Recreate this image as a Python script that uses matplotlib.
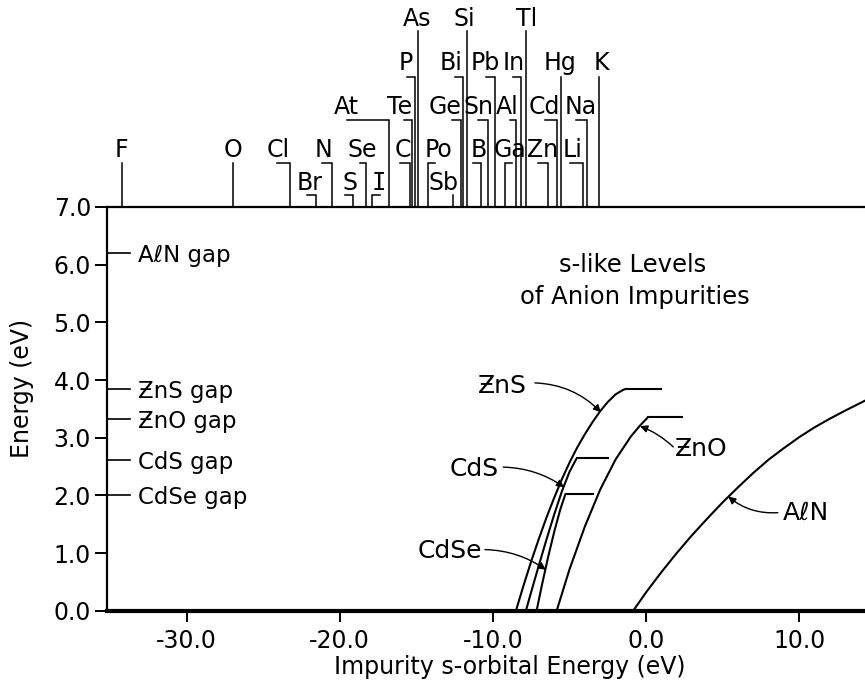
import matplotlib
matplotlib.use('Agg')
import matplotlib.pyplot as plt

plt.rcParams['font.family'] = ['DejaVu Sans']
plt.rcParams['axes.unicode_minus'] = False

# ---------------- data ----------------
# impurity s-orbital energies (eV) of the elements shown above the frame
elements = ['F', 'O', 'Cl', 'N', 'Se', 'C', 'Po', 'B', 'Ga', 'Zn', 'Li',
            'Br', 'S', 'I', 'Sb',
            'At', 'Te', 'Ge', 'Sn', 'Al', 'Cd', 'Na',
            'P', 'Bi', 'Pb', 'In', 'Hg', 'K',
            'As', 'Si', 'Tl']
energies = [-34.23, -27.0, -23.25, -20.5, -18.3, -15.42, -14.27, -10.79, -9.22, -6.39, -4.15,
            -21.56, -19.13, -17.92, -12.63,
            -16.76, -15.27, -12.09, -10.35, -8.52, -5.84, -3.85,
            -15.1, -11.94, -9.87, -8.17, -5.56, -3.06,
            -14.9, -11.68, -7.87]

# band gaps (eV) marked on the energy axis
gap_names = ['A\u2113N gap', '\u01B5nS gap', '\u01B5nO gap', 'CdS gap', 'CdSe gap']
gap_values = [6.2, 3.85, 3.32, 2.61, 2.01]

# s-like level curves: impurity energy (eV) vs level energy (eV)
zns_x = [-8.5, -8.0, -7.5, -7.0, -6.5, -6.0, -5.5, -5.0, -4.5, -4.0, -3.5, -3.0, -2.5, -2.0, -1.5, -1.27]
zns_E = [0.0, 0.44, 0.86, 1.25, 1.62, 1.96, 2.28, 2.57, 2.83, 3.06, 3.27, 3.46, 3.62, 3.75, 3.83, 3.85]
cds_x = [-7.85, -7.5, -7.0, -6.5, -6.0, -5.5, -5.0, -4.54]
cds_E = [0.0, 0.33, 0.79, 1.24, 1.67, 2.07, 2.41, 2.64]
cdse_x = [-7.15, -6.8, -6.4, -6.0, -5.6, -5.26]
cdse_E = [0.0, 0.45, 0.93, 1.37, 1.76, 2.03]
zno_x = [-5.84, -5.0, -4.0, -3.0, -2.0, -1.0, -0.4, 0.14]
zno_E = [0.0, 0.72, 1.46, 2.10, 2.62, 3.02, 3.21, 3.36]
aln_x = [-0.84, 0.0, 1.0, 2.0, 3.0, 4.0, 5.0, 6.0, 7.0, 8.0, 9.0, 10.0, 11.0, 12.0, 13.0, 14.5]
aln_E = [0.0, 0.32, 0.67, 1.00, 1.31, 1.60, 1.88, 2.14, 2.39, 2.62, 2.82, 3.01, 3.18, 3.33, 3.47, 3.67]

# conduction-band edge segments at the end of the curves
edge_names = ['ZnS', 'ZnO', 'CdS', 'CdSe']
edge_E = [3.85, 3.36, 2.64, 2.03]
edge_start = [-1.27, 0.14, -4.54, -5.26]
edge_end = [0.97, 2.32, -2.47, -3.45]

yticks = [0.0, 1.0, 2.0, 3.0, 4.0, 5.0, 6.0, 7.0]
xticks = [-30.0, -20.0, -10.0, 0.0, 10.0]

# ---------------- layout of element labels ----------------
label_row = [4] * 11 + [5] * 4 + [3] * 7 + [2] * 6 + [1] * 3
label_x = [-34.23, -27.0, -24.04, -21.04, -18.56, -15.9, -13.56, -10.92, -8.89, -6.77, -4.78,
           -22.0, -19.34, -17.45, -13.2,
           -19.57, -16.1, -13.14, -10.92, -9.06, -6.67, -4.26,
           -15.72, -12.75, -10.53, -8.66, -5.63, -2.92,
           -14.93, -11.9, -7.82]
hook_x = [-34.23, -27.0, -24.12, -21.17, -18.69, -16.08, -13.79, -11.29, -8.78, -7.08, -4.98,
          -22.17, -19.67, -17.37, -12.63,
          -19.56, -15.81, -12.7, -11.0, -8.89, -6.61, -4.6,
          -15.64, -12.48, -10.48, -8.68, -5.56, -3.06,
          -14.9, -11.68, -7.87]
row_base = {1: 10.13, 2: 9.37, 3: 8.62, 4: 7.87, 5: 7.30}
row_hook = {1: 10.05, 2: 9.25, 3: 8.50, 4: 7.77, 5: 7.20}

# ---------------- figure ----------------
fig = plt.figure(figsize=(8.65, 6.92), dpi=100)
ax = fig.add_axes([107 / 865, 1 - 610.7 / 692, 758 / 865, 403.7 / 692])
ax.set_xlim(-35.2, 14.29)
ax.set_ylim(0, 7)

ax.spines['right'].set_visible(False)
ax.spines['left'].set_linewidth(1.6)
ax.spines['top'].set_linewidth(1.6)
ax.spines['bottom'].set_linewidth(3.0)

ax.set_yticks(yticks)
ax.set_yticklabels(['%.1f' % v for v in yticks])
ax.set_xticks(xticks)
ax.set_xticklabels(['%.1f' % v for v in xticks])
ax.tick_params(axis='y', direction='out', length=8.5, width=1.4, labelsize=17, pad=3)
ax.tick_params(axis='x', direction='out', length=8, width=1.4, labelsize=17, pad=5)

# curves
lw_c = 1.5
for xs, es in [(zns_x, zns_E), (cds_x, cds_E), (cdse_x, cdse_E), (zno_x, zno_E), (aln_x, aln_E)]:
    ax.plot(xs, es, color='black', lw=lw_c, solid_capstyle='butt', solid_joinstyle='round')
for e, x0, x1 in zip(edge_E, edge_start, edge_end):
    ax.plot([x0, x1], [e, e], color='black', lw=lw_c)

# gap markers
for name, g in zip(gap_names, gap_values):
    ax.plot([-35.2, -33.7], [g, g], color='black', lw=1.2, clip_on=False)
    ax.text(-33.2, g, name, fontsize=16.5, ha='left', va='center_baseline')

# curve labels with arrows
arrow_kw = dict(arrowstyle='-|>', color='black', lw=1.0, shrinkA=0, shrinkB=0,
                mutation_scale=11)
curve_labels = [
    ('\u01B5nS', -10.97, 3.78, (-7.26, 3.95), (-2.95, 3.44), -0.2),
    ('CdS', -12.86, 2.33, (-9.33, 2.49), (-5.35, 2.14), -0.15),
    ('CdSe', -14.9, 0.91, (-10.52, 1.06), (-6.55, 0.71), -0.15),
    ('\u01B5nO', 1.86, 2.68, (1.77, 2.84), (-0.40, 3.20), 0.1),
    ('A\u2113N', 8.95, 1.58, (8.6, 1.70), (5.36, 1.98), -0.2),
]
for txt, tx, ty, start, tip, rad in curve_labels:
    ax.text(tx, ty, txt, fontsize=18, ha='left', va='baseline')
    ax.annotate('', xy=tip, xytext=start,
                arrowprops=dict(connectionstyle='arc3,rad=%g' % rad, **arrow_kw))

# title text
ax.text(-0.9, 5.87, 's-like Levels', fontsize=17.5, ha='center', va='baseline')
ax.text(-0.75, 5.32, 'of Anion Impurities', fontsize=17.5, ha='center', va='baseline')

# element labels and leaders
for name, e, row, lx, hx in zip(elements, energies, label_row, label_x, hook_x):
    yb = row_base[row]
    yh = row_hook[row]
    ax.plot([hx, e, e], [yh, yh, 7.0], color='black', lw=1.1, clip_on=False,
            solid_joinstyle='miter')
    fam = ['DejaVu Sans Mono'] if name == 'I' else ['DejaVu Sans']
    ax.text(lx, yb, name, fontsize=17, ha='center', va='baseline', family=fam,
            clip_on=False)

# axis labels
fig.text(22 / 865, 1 - 388 / 692, 'Energy (eV)', rotation=90, fontsize=17,
         ha='center', va='center')
fig.text(510 / 865, 1 - 667 / 692, 'Impurity s-orbital Energy (eV)', fontsize=17,
         ha='center', va='center')

fig.savefig('out.png', dpi=100)
